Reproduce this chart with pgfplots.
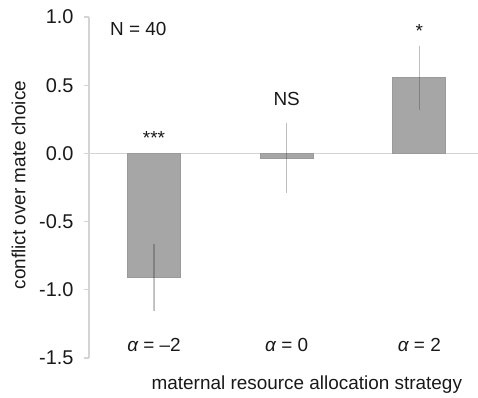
\documentclass[border=0pt]{standalone}
\usepackage{pgfplots}
\pgfplotsset{compat=1.18}
\usepackage{fontspec}
\setmainfont{Liberation Sans}
\definecolor{barfill}{HTML}{A6A6A6}
\definecolor{baredge}{HTML}{9A9A9A}
\definecolor{axgray}{HTML}{D4D4D4}
\begin{document}
\fontsize{19}{22}\selectfont
\begin{tikzpicture}
\useasboundingbox (-89bp,-40bp) rectangle (389bp,358bp);
\begin{axis}[
  at={(0,0)}, anchor=south west,
  scale only axis, width=389bp, height=341bp,
  xmin=-0.49, xmax=2.442, ymin=-1.5, ymax=1.0,
  axis lines*=left,
  x axis line style={draw=none},
  y axis line style={draw=axgray, line width=1.2bp},
  xtick={0,1,2},
  xticklabels={{\itshape α} = –2, {\itshape α} = 0, {\itshape α} = 2},
  x tick style={draw=none},
  xticklabel style={anchor=base, yshift=11.5bp, font=\fontsize{19}{22}\selectfont},
  ytick={-1.5,-1,-0.5,0,0.5,1},
  yticklabels={-1.5,-1.0,-0.5,0.0,0.5,1.0},
  yticklabel style={xshift=-4bp, font=\fontsize{20}{22}\selectfont},
  y tick style={draw=axgray, line width=1.2bp},
  tick align=outside, major tick length=5bp,
  ytick pos=left,
  tick label style={text=black!90},
  extra y ticks={0}, extra y tick labels={},
  extra y tick style={grid=major, major grid style={draw=axgray, line width=1.2bp}, tick style={draw=none}},
  xlabel={maternal resource allocation strategy},
  xlabel style={at={(axis description cs:0.56,-0.092)}, anchor=base, font=\fontsize{19}{22}\selectfont, text=black!90},
  ylabel={conflict over mate choice},
  ylabel style={at={(axis description cs:-0.181,0.507)}, anchor=center, rotate=0, font=\fontsize{19}{22}\selectfont, text=black!90},
  clip=false,
]
\addplot[ybar, bar width=53bp, fill=barfill, draw=baredge, line width=0.8bp,
  error bars/.cd, y dir=both, y explicit, error mark=none,
  error bar style={draw=black, draw opacity=0.22, line width=1.5bp}]
  coordinates {(0,-0.91) +- (0,0.245) (1,-0.035) +- (0,0.255) (2,0.555) +- (0,0.235)};
\node[anchor=base, font=\fontsize{19}{22}\selectfont, text=black!90] at (axis cs:0,0.066) {***};
\node[anchor=base, font=\fontsize{19}{22}\selectfont, text=black!90] at (axis cs:1,0.352) {NS};
\node[anchor=base, font=\fontsize{19}{22}\selectfont, text=black!90] at (axis cs:2,0.848) {*};
\node[anchor=base west, inner sep=0pt, font=\fontsize{19}{22}\selectfont, text=black!90] at (axis cs:-0.332,0.868) {N = 40};
\end{axis}
\end{tikzpicture}
\end{document}
